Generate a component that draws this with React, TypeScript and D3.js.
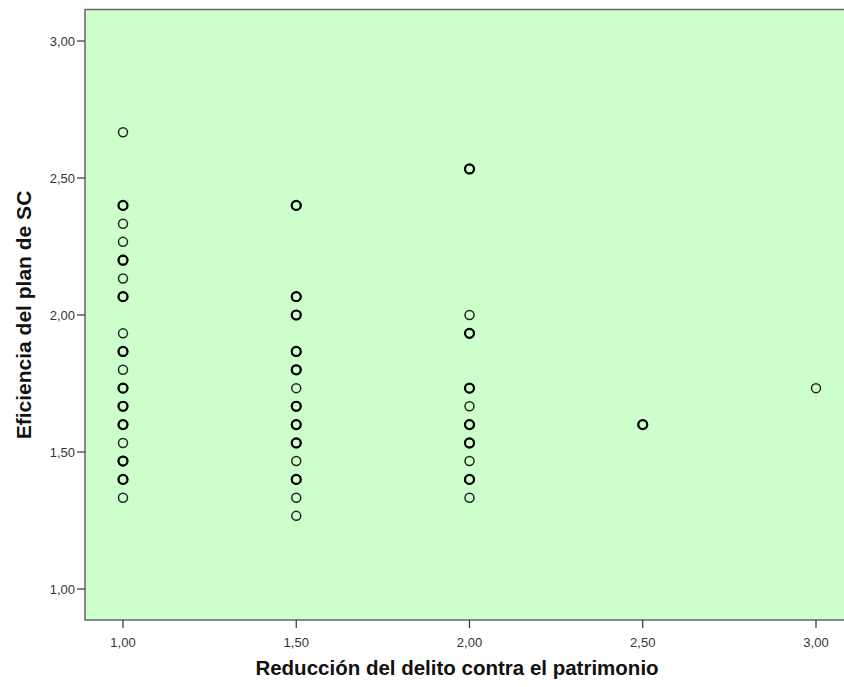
import React from "react";
import * as d3 from "d3";

// Data: x category, y value, overlap count (drawn multiple times for darker circles)
const xValues = [
  1, 1, 1, 1, 1, 1, 1, 1, 1, 1, 1, 1, 1, 1, 1, 1, 1,
  1.5, 1.5, 1.5, 1.5, 1.5, 1.5, 1.5, 1.5, 1.5, 1.5, 1.5, 1.5, 1.5,
  2, 2, 2, 2, 2, 2, 2, 2, 2, 2,
  2.5,
  3,
];
const yValues = [
  2.667, 2.4, 2.333, 2.267, 2.2, 2.133, 2.067, 1.933, 1.867, 1.8, 1.733, 1.667, 1.6, 1.533, 1.467, 1.4, 1.333,
  2.4, 2.067, 2.0, 1.867, 1.8, 1.733, 1.667, 1.6, 1.533, 1.467, 1.4, 1.333, 1.267,
  2.533, 2.0, 1.933, 1.733, 1.667, 1.6, 1.533, 1.467, 1.4, 1.333,
  1.6,
  1.733,
];
const counts = [
  1, 2, 1, 1, 2, 1, 2, 1, 2, 1, 2, 2, 2, 1, 2, 2, 1,
  2, 2, 2, 2, 2, 1, 2, 2, 2, 1, 2, 1, 1,
  2, 1, 2, 2, 1, 2, 2, 1, 2, 1,
  2,
  1,
];
const xTicks = [1, 1.5, 2, 2.5, 3];
const yTicks = [1, 1.5, 2, 2.5, 3];
const xTitle = "Reducción del delito contra el patrimonio";
const yTitle = "Eficiencia del plan de SC";

const fmt = (v: number) => v.toFixed(2).replace(".", ",");

export default function App() {
  const W = 844;
  const H = 687;
  const left = 85;
  const top = 9.5;
  const right = 850;
  const bottom = 620;

  const x = d3.scaleLinear().domain([1, 3]).range([123, 816]);
  const y = d3.scaleLinear().domain([1, 3]).range([589, 41]);

  const pts: { x: number; y: number; k: number }[] = [];
  xValues.forEach((xv, i) => {
    for (let k = 0; k < counts[i]; k++) pts.push({ x: xv, y: yValues[i], k });
  });

  return (
    <svg
      width={W}
      height={H}
      style={{ position: "absolute", left: 0, top: 0, background: "#fff" }}
      fontFamily="'Liberation Sans', Arial, sans-serif"
    >
      <rect x={left} y={top} width={right - left} height={bottom - top} fill="#ccffcc" stroke="#666" strokeWidth={1.5} />
      {yTicks.map((t) => (
        <g key={"y" + t}>
          <line x1={77} x2={left} y1={y(t)} y2={y(t)} stroke="#333" strokeWidth={1.2} />
          <text x={75} y={y(t) + 4.5} textAnchor="end" fontSize={13} fill="#333">
            {fmt(t)}
          </text>
        </g>
      ))}
      {xTicks.map((t) => (
        <g key={"x" + t}>
          <line x1={x(t)} x2={x(t)} y1={bottom} y2={628} stroke="#333" strokeWidth={1.2} />
          <text x={x(t)} y={647} textAnchor="middle" fontSize={13} fill="#333">
            {fmt(t)}
          </text>
        </g>
      ))}
      {pts.map((p, i) => (
        <circle
          key={i}
          cx={x(p.x)}
          cy={y(p.y)}
          r={4.5}
          fill="none"
          stroke="#000"
          strokeWidth={p.k > 0 ? 2.2 : 1.5}
          opacity={p.k > 0 ? 1 : 0.85}
        />
      ))}
      <text x={457} y={675} textAnchor="middle" fontSize={20.5} fontWeight="bold" fill="#111">
        {xTitle}
      </text>
      <text
        transform={`translate(31, 315) rotate(-90)`}
        textAnchor="middle"
        fontSize={21}
        fontWeight="bold"
        fill="#111"
      >
        {yTitle}
      </text>
    </svg>
  );
}
